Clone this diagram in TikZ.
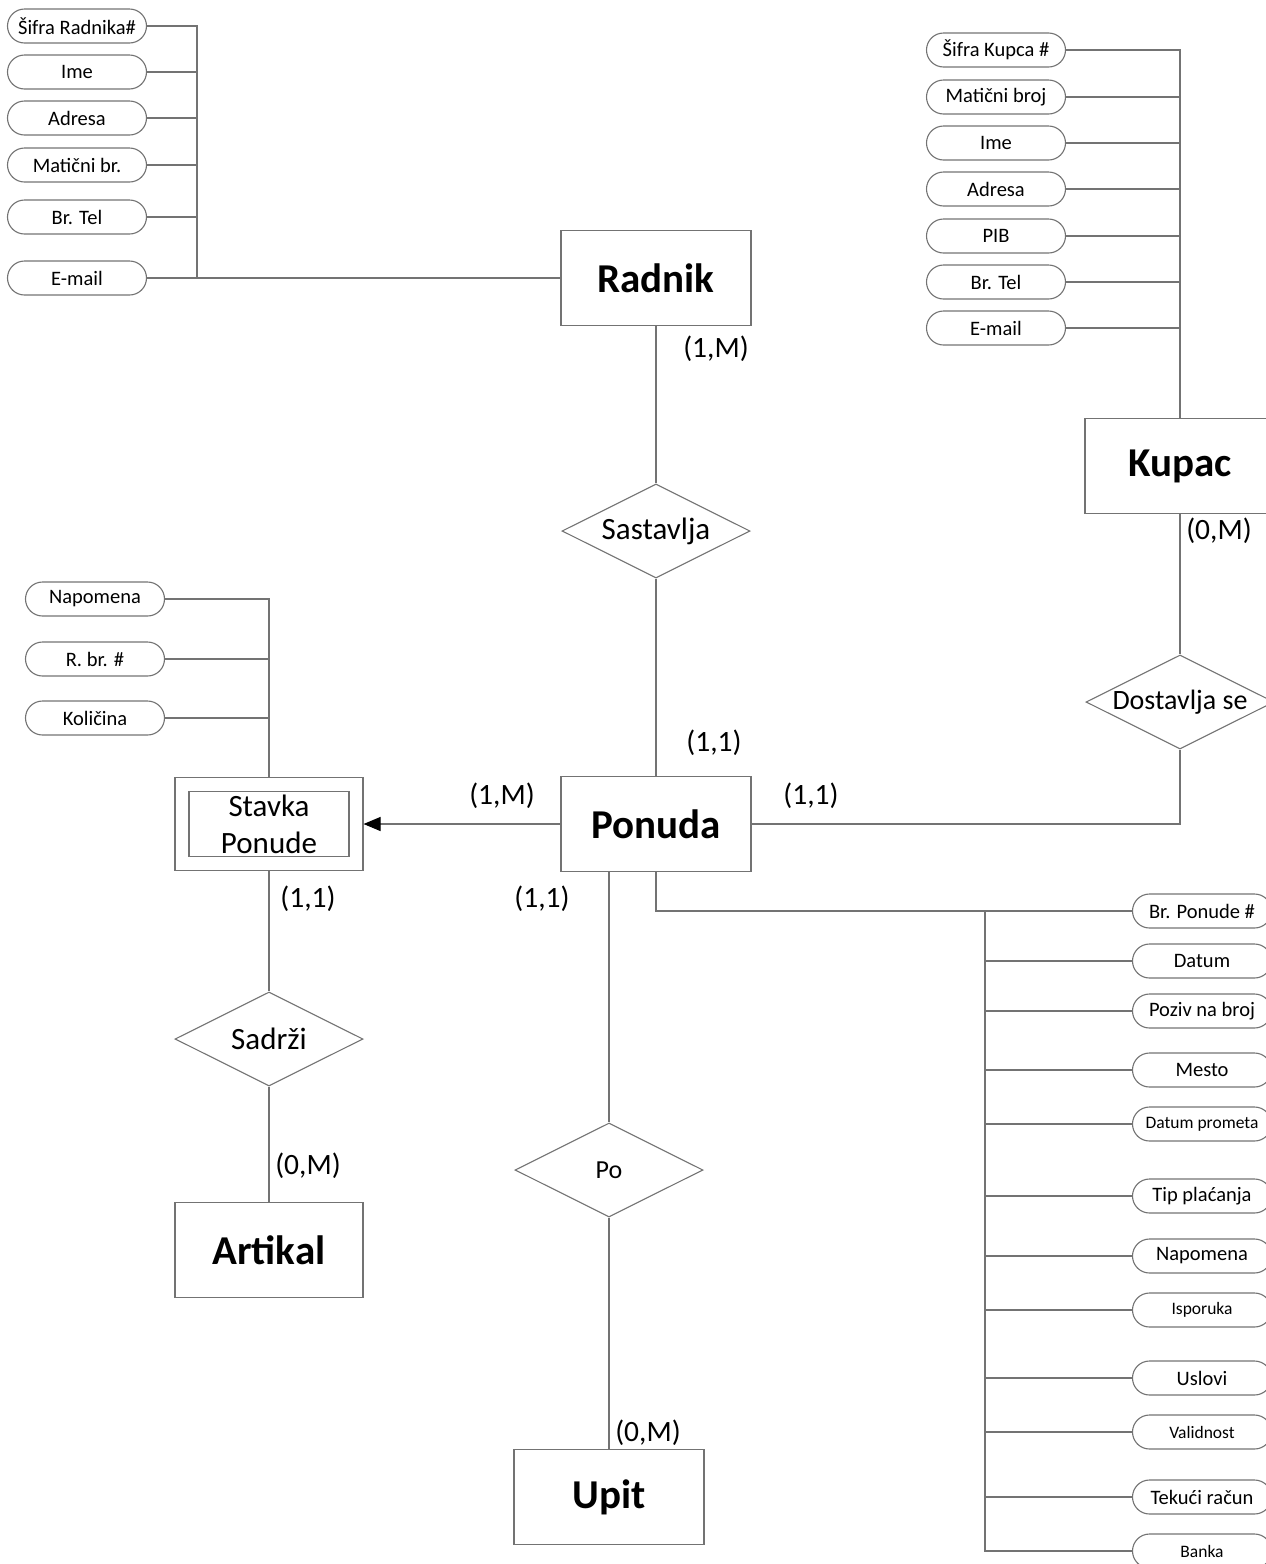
\documentclass[tikz,border=0pt]{standalone}
\usepackage{fontspec}
\setmainfont{Carlito}
\usetikzlibrary{shapes.geometric,arrows.meta}
\definecolor{linegray}{RGB}{115,115,115}
\tikzset{
	ent/.style={draw=linegray,minimum width=190pt,minimum height=95pt,font=\fontsize{41}{45}\selectfont\bfseries},
	rel/.style={draw=linegray,diamond,aspect=2,inner sep=0pt,minimum width=188pt,minimum height=94pt,font=\fontsize{31}{34}\selectfont},
	attr/.style={draw=linegray,rounded corners=17pt,minimum width=139pt,minimum height=34pt,inner sep=0pt,font=\fontsize{20.5}{22}\selectfont},
	sattr/.style={attr,font=\fontsize{17.5}{20}\selectfont},
	card/.style={font=\fontsize{29.5}{32}\selectfont},
	link/.style={draw=linegray}
}
\begin{document}
\begin{tikzpicture}[x=1pt,y=-1pt,line width=1.1pt,>={Triangle[length=17pt,width=14pt,black]}]
	\useasboundingbox (0,0) rectangle (1266,1564);
	% entiteti
	\node[ent] (radnik) at (656,278) {Radnik};
	\node[ent] (ponuda) at (656,824) {Ponuda};
	\node[ent] (kupac) at (1180,466) {Kupac};
	\node[ent,minimum width=188pt] (artikal) at (269,1250) {Artikal};
	\node[ent] (upit) at (609,1497) {Upit};
	\node[draw=linegray,minimum width=188pt,minimum height=93pt] (stavka) at (269,824) {};
	\node[draw=linegray,minimum width=160pt,minimum height=65pt,inner sep=0pt,align=center,font=\fontsize{31}{37}\selectfont] (stavkain) at (stavka) {Stavka\\Ponude};
	% veze
	\node[rel] (sastavlja) at (656,531) {Sastavlja};
	\node[rel,font=\fontsize{28}{32}\selectfont] (dostavlja) at (1180,702) {Dostavlja se};
	\node[rel] (sadrzi) at (269,1039) {Sadrži};
	\node[rel,font=\fontsize{26}{30}\selectfont] (po) at (609,1170) {Po};
	% atributi radnika
	\node[attr] (ra1) at (77,26) {Šifra Radnika\#};
	\node[attr] (ra2) at (77,72) {Ime};
	\node[attr] (ra3) at (77,118) {Adresa};
	\node[attr] (ra4) at (77,165) {Matični br.};
	\node[attr] (ra5) at (77,217) {Br. Tel};
	\node[attr] (ra6) at (77,278) {E-mail};
	\coordinate (rbus) at (197,278);
	\draw[link] (ra1.east) -| (rbus);
	\draw[link] (ra2.east) -- (ra2.east -| rbus);
	\draw[link] (ra3.east) -- (ra3.east -| rbus);
	\draw[link] (ra4.east) -- (ra4.east -| rbus);
	\draw[link] (ra5.east) -- (ra5.east -| rbus);
	\draw[link] (ra6.east) -- (radnik.west);
	% atributi kupca
	\node[attr] (ka1) at (996,50) {Šifra Kupca \#};
	\node[attr] (ka2) at (996,97) {Matični broj};
	\node[attr] (ka3) at (996,143) {Ime};
	\node[attr] (ka4) at (996,189) {Adresa};
	\node[attr] (ka5) at (996,236) {PIB};
	\node[attr] (ka6) at (996,282) {Br. Tel};
	\node[attr] (ka7) at (996,328) {E-mail};
	\draw[link] (ka1.east) -| (kupac.north);
	\draw[link] (ka2.east) -- (ka2.east -| kupac.north);
	\draw[link] (ka3.east) -- (ka3.east -| kupac.north);
	\draw[link] (ka4.east) -- (ka4.east -| kupac.north);
	\draw[link] (ka5.east) -- (ka5.east -| kupac.north);
	\draw[link] (ka6.east) -- (ka6.east -| kupac.north);
	\draw[link] (ka7.east) -- (ka7.east -| kupac.north);
	% atributi stavke
	\node[attr] (sa1) at (95,599) {Napomena};
	\node[attr] (sa2) at (95,659) {R. br. \#};
	\node[attr] (sa3) at (95,718) {Količina};
	\draw[link] (sa1.east) -| (stavka.north);
	\draw[link] (sa2.east) -- (sa2.east -| stavka.north);
	\draw[link] (sa3.east) -- (sa3.east -| stavka.north);
	% atributi ponude
	\node[attr] (pa1) at (1202,911) {Br. Ponude \#};
	\node[attr] (pa2) at (1202,961) {Datum};
	\node[attr] (pa3) at (1202,1011) {Poziv na broj};
	\node[attr] (pa4) at (1202,1070) {Mesto};
	\node[sattr] (pa5) at (1202,1124) {Datum prometa};
	\node[attr] (pa6) at (1202,1196) {Tip plaćanja};
	\node[attr] (pa7) at (1202,1256) {Napomena};
	\node[sattr] (pa8) at (1202,1310) {Isporuka};
	\node[attr] (pa9) at (1202,1378) {Uslovi};
	\node[sattr] (pa10) at (1202,1432) {Validnost};
	\node[attr] (pa11) at (1202,1497) {Tekući račun};
	\node[sattr] (pa12) at (1202,1551) {Banka};
	\coordinate (pbus) at (985,911);
	\draw[link] (ponuda.south) |- (pa1.west);
	\draw[link] (pbus) |- (pa12.west);
	\draw[link] (pa2.west) -- (pa2.west -| pbus);
	\draw[link] (pa3.west) -- (pa3.west -| pbus);
	\draw[link] (pa4.west) -- (pa4.west -| pbus);
	\draw[link] (pa5.west) -- (pa5.west -| pbus);
	\draw[link] (pa6.west) -- (pa6.west -| pbus);
	\draw[link] (pa7.west) -- (pa7.west -| pbus);
	\draw[link] (pa8.west) -- (pa8.west -| pbus);
	\draw[link] (pa9.west) -- (pa9.west -| pbus);
	\draw[link] (pa10.west) -- (pa10.west -| pbus);
	\draw[link] (pa11.west) -- (pa11.west -| pbus);
	% spojevi
	\draw[link] (radnik.south) -- (sastavlja.north);
	\draw[link] (sastavlja.south) -- (ponuda.north);
	\draw[link] (kupac.south) -- (dostavlja.north);
	\draw[link] (ponuda.east) -| (dostavlja.south);
	\draw[link,->] (ponuda.west) -- (stavka.east);
	\draw[link] (stavka.south) -- (sadrzi.north);
	\draw[link] (sadrzi.south) -- (artikal.north);
	\draw[link] (po.north |- ponuda.south) -- (po.north);
	\draw[link] (po.south) -- (upit.north);
	% kardinalnosti
	\node[card] at (716,349) {(1,M)};
	\node[card] at (714,743) {(1,1)};
	\node[card] at (502,796) {(1,M)};
	\node[card] at (811,796) {(1,1)};
	\node[card] at (1219,531) {(0,M)};
	\node[card] at (308,899) {(1,1)};
	\node[card] at (542,899) {(1,1)};
	\node[card] at (308,1166) {(0,M)};
	\node[card] at (648,1433) {(0,M)};
\end{tikzpicture}
\end{document}
